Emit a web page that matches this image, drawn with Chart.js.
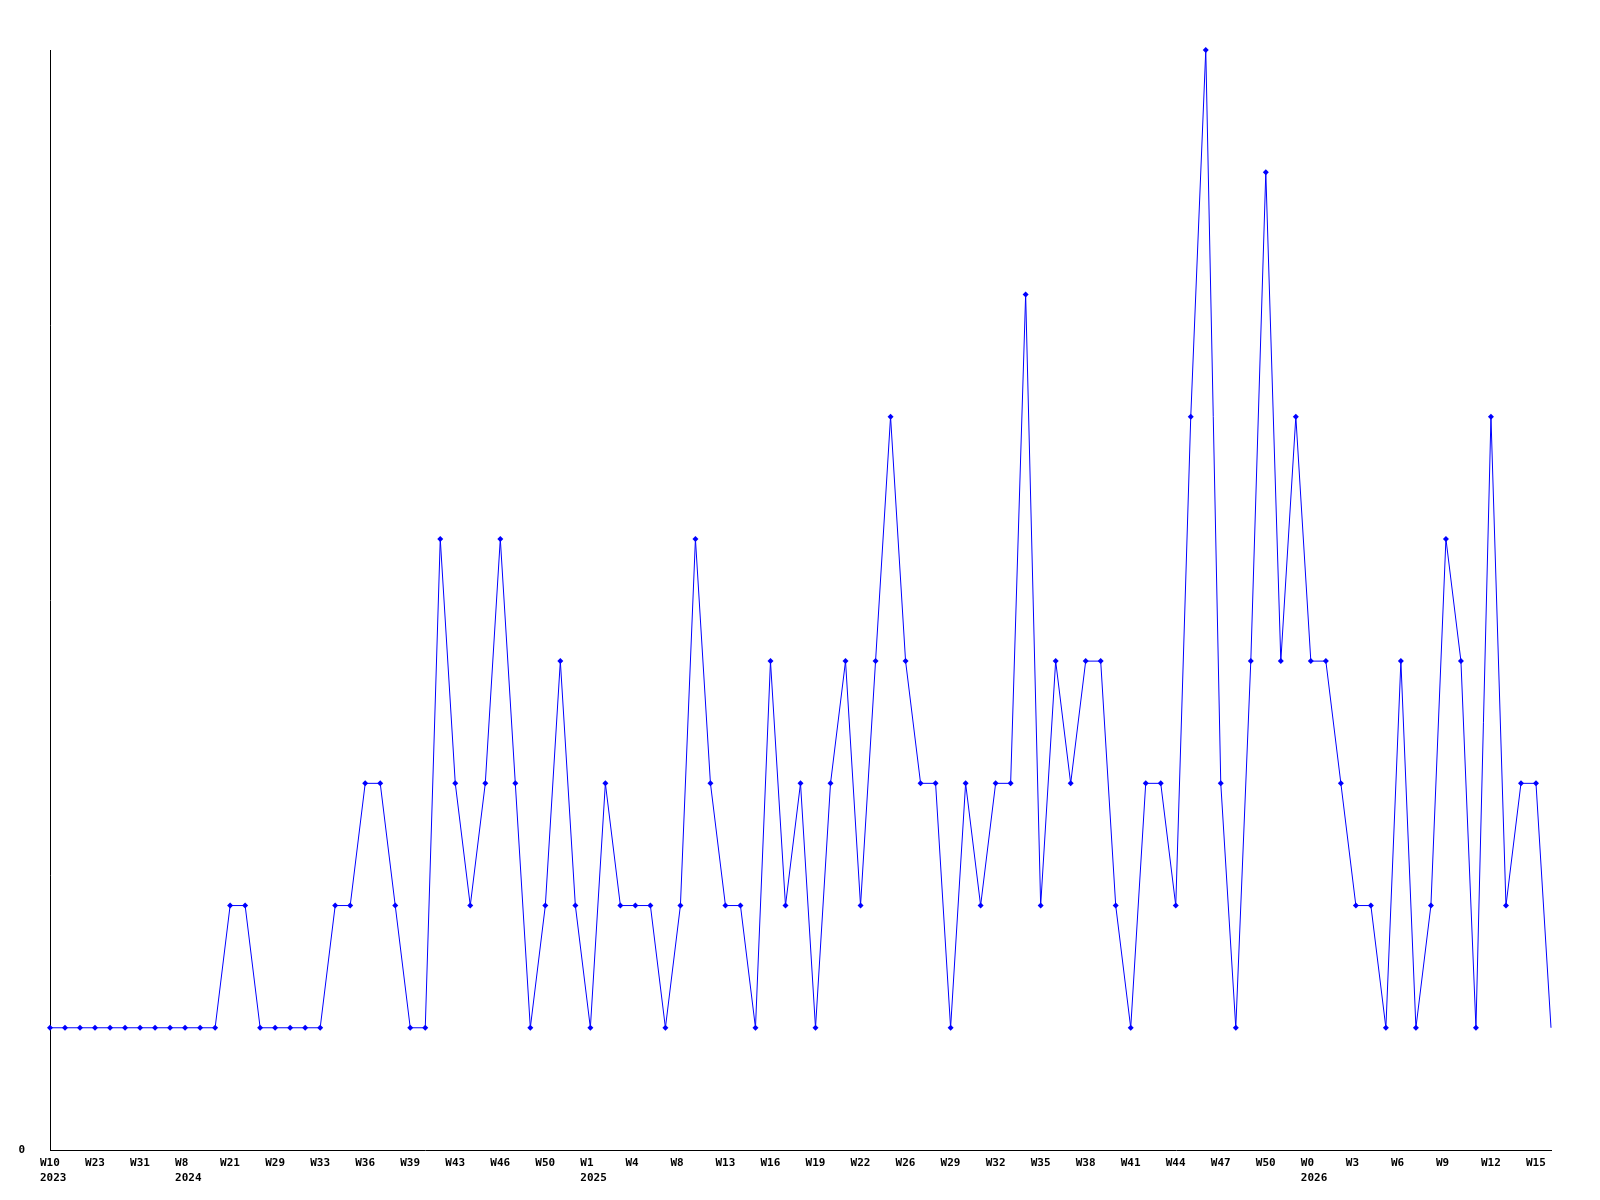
<!DOCTYPE html>
<html>
<head>
<meta charset="utf-8">
<script src="https://cdn.jsdelivr.net/npm/chart.js@4/dist/chart.umd.min.js"></script>
<style>
  html, body { margin: 0; padding: 0; background: #fff; }
  #wrap { width: 1600px; height: 1200px; }
</style>
</head>
<body>
<div id="wrap"><canvas id="chart" width="1600" height="1200"></canvas></div>
<script>
// week labels, one per point (only every third one is shown on the axis)
const weeks = [
  "W10", "W12", "W18", "W23", "W26", "W28", "W31", "W38", "W47", "W8",
  "W12", "W16", "W21", "W22", "W26", "W29", "W30", "W32", "W33", "W34",
  "W35", "W36", "W37", "W38", "W39", "W40", "W42", "W43", "W44", "W45",
  "W46", "W47", "W49", "W50", "W51", "W52", "W1", "W2", "W3", "W4",
  "W5", "W7", "W8", "W10", "W11", "W13", "W14", "W15", "W16", "W17",
  "W18", "W19", "W20", "W21", "W22", "W23", "W25", "W26", "W27", "W28",
  "W29", "W30", "W31", "W32", "W33", "W34", "W35", "W36", "W37", "W38",
  "W39", "W40", "W41", "W42", "W43", "W44", "W45", "W46", "W47", "W48",
  "W49", "W50", "W51", "W52", "W0", "W1", "W2", "W3", "W4", "W5",
  "W6", "W7", "W8", "W9", "W10", "W11", "W12", "W13", "W14", "W15",
  "W16"
];
const yearMarks = { 0: "2023", 9: "2024", 36: "2025", 84: "2026" };

const counts = [
  1, 1, 1, 1, 1, 1, 1, 1, 1, 1,
  1, 1, 2, 2, 1, 1, 1, 1, 1, 2,
  2, 3, 3, 2, 1, 1, 5, 3, 2, 3,
  5, 3, 1, 2, 4, 2, 1, 3, 2, 2,
  2, 1, 2, 5, 3, 2, 2, 1, 4, 2,
  3, 1, 3, 4, 2, 4, 6, 4, 3, 3,
  1, 3, 2, 3, 3, 7, 2, 4, 3, 4,
  4, 2, 1, 3, 3, 2, 6, 9, 3, 1,
  4, 8, 4, 6, 4, 4, 3, 2, 2, 1,
  4, 1, 2, 5, 4, 1, 6, 2, 3, 3,
  1
];

const labels = weeks.map((w, i) => yearMarks[i] ? [w, yearMarks[i]] : w);
const tickFont = { family: "'DejaVu Sans Mono', monospace", size: 11, weight: "bold", lineHeight: 1.36 };

new Chart(document.getElementById("chart"), {
  type: "line",
  data: {
    labels: labels,
    datasets: [{
      data: counts,
      borderColor: "#0000ff",
      backgroundColor: "#0000ff",
      borderWidth: 1,
      tension: 0,
      clip: false,
      pointStyle: "rectRot",
      pointRadius: counts.map((v, i) => i === counts.length - 1 ? 0 : 3),
      pointBorderWidth: 0
    }]
  },
  options: {
    responsive: false,
    animation: false,
    layout: { padding: { top: 50, right: 49, left: 0, bottom: 0 } },
    plugins: { legend: { display: false }, tooltip: { enabled: false } },
    scales: {
      x: {
        grid: { display: false, drawTicks: false },
        border: { display: true, color: "#000", width: 1 },
        afterFit: (s) => { s.height = 50; },
        ticks: {
          autoSkip: false,
          maxRotation: 0,
          align: "start",
          labelOffset: -10,
          padding: 6,
          color: "#000",
          font: tickFont,
          callback: function (v, i) { return i % 3 === 0 ? this.getLabelForValue(v) : ""; }
        }
      },
      y: {
        min: 0,
        max: 9,
        grid: { display: false, drawTicks: false },
        border: { display: true, color: "#000", width: 1 },
        afterFit: (s) => { s.width = 50; },
        ticks: {
          stepSize: 1,
          padding: 25,
          color: "#000",
          font: tickFont,
          callback: (v) => v === 0 ? "0" : ""
        }
      }
    }
  }
});
</script>
</body>
</html>
